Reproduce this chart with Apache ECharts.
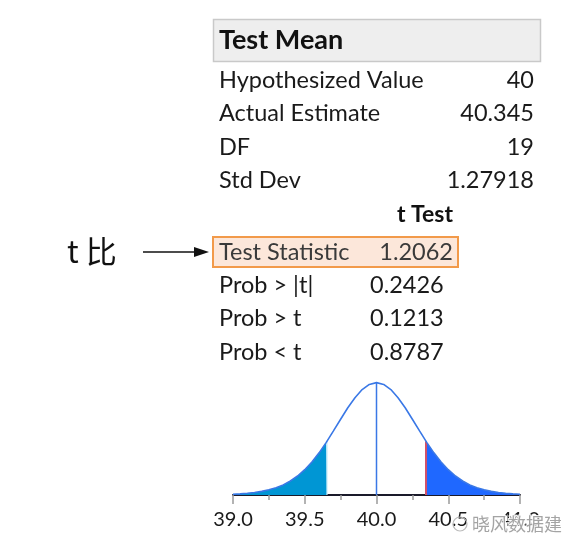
<!DOCTYPE html>
<html>
<head>
<meta charset="utf-8">
<script src="https://cdn.jsdelivr.net/npm/echarts@6/dist/echarts.min.js"></script>
<style>
html,body{margin:0;padding:0;background:#fff;}
#c{width:572px;height:553px;}
</style>
</head>
<body>
<div id="c"></div>
<script>
// ---- data ----
const tableTitle = 'Test Mean';
const summaryLabels = ['Hypothesized Value', 'Actual Estimate', 'DF', 'Std Dev'];
const summaryValues = ['40', '40.345', '19', '1.27918'];
const testTitle = 't Test';
const testLabels = ['Test Statistic', 'Prob > |t|', 'Prob > t', 'Prob < t'];
const testValues = ['1.2062', '0.2426', '0.1213', '0.8787'];
const annotation = 't 比';
const watermark = '晓风数据建';

// x positions of the density curve and relative heights (peak = 1)
const curveX = [39.00,39.05,39.10,39.15,39.20,39.25,39.30,39.35,39.40,39.45,39.50,39.55,39.60,39.65,39.70,39.75,39.80,39.85,39.90,39.95,
                40.00,40.05,40.10,40.15,40.20,40.25,40.30,40.35,40.40,40.45,40.50,40.55,40.60,40.65,40.70,40.75,40.80,40.85,40.90,40.95,41.00];
const curveY = [0.007,0.010,0.015,0.022,0.032,0.046,0.065,0.090,0.125,0.169,0.225,0.294,0.375,0.468,0.570,0.674,0.776,0.866,0.938,0.984,
                1.000,0.984,0.938,0.866,0.776,0.674,0.570,0.468,0.375,0.294,0.225,0.169,0.125,0.090,0.065,0.046,0.032,0.022,0.015,0.010,0.007];
const hypothesized = 40.0;
const leftCut = 39.655;
const rightCut = 40.345;
const cutHeight = 0.478;
const xTicks = [39.0, 39.5, 40.0, 40.5, 41.0];

// ---- build series data ----
const curve = curveX.map((x, i) => [x, curveY[i]]);
const leftTail = curve.filter(p => p[0] < leftCut).concat([[leftCut, cutHeight]]);
const rightTail = [[rightCut, cutHeight]].concat(curve.filter(p => p[0] > rightCut));

const chart = echarts.init(document.getElementById('c'), null, {renderer: 'canvas'});

const LATIN = 'Lato, "Noto Sans", sans-serif';
const BODY = '23.5px ' + LATIN;
const graphics = [];
// header box
graphics.push({type: 'rect', shape: {x: 213.5, y: 19.5, width: 327, height: 42},
  style: {fill: '#eeeeee', stroke: '#c9c9c9', lineWidth: 1.5}, z: 1});
graphics.push({type: 'text', x: 219, y: 40, style: {text: tableTitle, font: 'bold 27px ' + LATIN, fill: '#111', align: 'left', verticalAlign: 'middle'}, z: 2});
const sumY = [80, 113, 147, 180];
summaryLabels.forEach((t, i) => {
  graphics.push({type: 'text', x: 219, y: sumY[i], style: {text: t, font: BODY, fill: '#1a1a1a', align: 'left', verticalAlign: 'middle'}});
  graphics.push({type: 'text', x: 534, y: sumY[i], style: {text: summaryValues[i], font: BODY, fill: '#1a1a1a', align: 'right', verticalAlign: 'middle'}});
});
graphics.push({type: 'text', x: 453, y: 215, style: {text: testTitle, font: 'bold 23px ' + LATIN, fill: '#111', align: 'right', verticalAlign: 'middle'}});
// highlighted box
graphics.push({type: 'rect', shape: {x: 213, y: 237, width: 245, height: 30},
  style: {fill: '#fce7da', stroke: '#f29a4a', lineWidth: 2}, z: 1});
const testY = [252, 285, 318, 352];
testLabels.forEach((t, i) => {
  graphics.push({type: 'text', x: 219, y: testY[i], style: {text: t, font: BODY, fill: i === 0 ? '#3a3a3a' : '#1a1a1a', align: 'left', verticalAlign: 'middle'}, z: 2});
  if (i === 0) {
    graphics.push({type: 'text', x: 453, y: testY[i], style: {text: testValues[i], font: BODY, fill: '#3a3a3a', align: 'right', verticalAlign: 'middle'}, z: 2});
  } else {
    graphics.push({type: 'text', x: 370, y: testY[i], style: {text: testValues[i], font: BODY, fill: '#1a1a1a', align: 'left', verticalAlign: 'middle'}, z: 2});
  }
});
// annotation + arrow
graphics.push({type: 'text', x: 67, y: 251, style: {text: annotation, font: '31px "Noto Sans CJK SC", sans-serif', fill: '#111', align: 'left', verticalAlign: 'middle'}});
graphics.push({type: 'line', shape: {x1: 143, y1: 252, x2: 198, y2: 252}, style: {stroke: '#111', lineWidth: 1.5}});
graphics.push({type: 'polygon', shape: {points: [[194, 247], [209, 252], [194, 257]]}, style: {fill: '#111'}});
// watermark
graphics.push({type: 'circle', shape: {cx: 460, cy: 524, r: 7}, style: {fill: 'none', stroke: '#bbbbbb', lineWidth: 1.2}, z: 20});
graphics.push({type: 'text', x: 472, y: 524, style: {text: watermark, font: '18px "Noto Sans CJK SC", sans-serif', fill: '#9a9a9a', stroke: '#ffffff', lineWidth: 2, align: 'left', verticalAlign: 'middle', opacity: 0.9}, z: 20});

const option = {
  animation: false,
  backgroundColor: '#ffffff',
  grid: {left: 233, right: 52, top: 377, bottom: 58},
  xAxis: {
    type: 'value', min: 39, max: 41, interval: 0.5,
    axisLine: {show: true, onZero: false, lineStyle: {color: '#1a1a2a', width: 2}},
    axisTick: {show: true, length: 9, lineStyle: {color: '#9a9a9a', width: 1.5}},
    minorTick: {show: true, splitNumber: 2, length: 5, lineStyle: {color: '#9a9a9a', width: 1.5}},
    splitLine: {show: false},
    axisLabel: {show: true, fontSize: 20, color: '#1a1a1a', fontFamily: LATIN, margin: 15,
      formatter: v => xTicks.indexOf(v) >= 0 ? v.toFixed(1) : ''}
  },
  yAxis: {type: 'value', min: 0, max: 1.05, show: false},
  series: [
    {type: 'line', data: leftTail, symbol: 'none', lineStyle: {width: 0}, areaStyle: {color: '#0096d4', opacity: 1}, z: 2},
    {type: 'line', data: rightTail, symbol: 'none', lineStyle: {width: 0}, areaStyle: {color: '#1f68ff', opacity: 1}, z: 2},
    {type: 'line', data: [[leftCut, 0], [leftCut, cutHeight]], symbol: 'none', lineStyle: {color: '#c8ecf8', width: 1.2}, z: 3},
    {type: 'line', data: [[rightCut, 0], [rightCut, cutHeight]], symbol: 'none', lineStyle: {color: '#d2506a', width: 2}, z: 3},
    {type: 'line', data: [[hypothesized, 0], [hypothesized, 1]], symbol: 'none', lineStyle: {color: '#3a78e6', width: 1.5}, z: 3},
    {type: 'line', data: curve, symbol: 'none', lineStyle: {color: '#3a78e6', width: 1.6}, z: 4}
  ],
  graphic: graphics
};
chart.setOption(option);
</script>
</body>
</html>
